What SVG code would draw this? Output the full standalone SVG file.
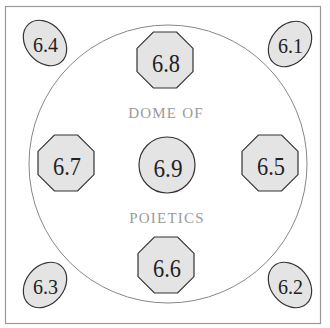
<svg xmlns="http://www.w3.org/2000/svg" width="330" height="328" viewBox="0 0 330 328">
<style>
.oct{fill:#e4e4e4;stroke:#333;stroke-width:1.2}
.ell{fill:#e4e4e4;stroke:#333;stroke-width:1.2}
.num{font-family:"Liberation Serif","Times New Roman",serif;font-size:25px;fill:#222;text-anchor:middle}
.sm{font-size:22px}
.dome{font-family:"Liberation Serif","Times New Roman",serif;font-size:15px;fill:#9a9a9a;text-anchor:middle;letter-spacing:1.2px}
</style>
<defs>
<polygon id="octo" points="-11.6,-28 11.6,-28 28,-11.6 28,11.6 11.6,28 -11.6,28 -28,11.6 -28,-11.6"/>
</defs>
<rect x="0" y="0" width="330" height="328" fill="#fff"/>
<rect x="5.5" y="6.5" width="315" height="317" fill="none" stroke="#999" stroke-width="1.2"/>
<g id="dome">
<circle cx="168" cy="164" r="139" fill="none" stroke="#888" stroke-width="1"/>
<text class="dome" x="166" y="118">DOME OF</text>
<text class="dome" x="167" y="223">POIETICS</text>
</g>
<g id="n68"><use href="#octo" class="oct" transform="translate(165,60)"/><text class="num" x="166" y="72" textLength="28" lengthAdjust="spacingAndGlyphs">6.8</text></g>
<g id="n67"><use href="#octo" class="oct" transform="translate(66,163)"/><text class="num" x="67" y="175" textLength="28" lengthAdjust="spacingAndGlyphs">6.7</text></g>
<g id="n65"><use href="#octo" class="oct" transform="translate(270,163)"/><text class="num" x="271" y="175" textLength="28" lengthAdjust="spacingAndGlyphs">6.5</text></g>
<g id="n66"><use href="#octo" class="oct" transform="translate(166,265)"/><text class="num" x="167" y="277" textLength="28" lengthAdjust="spacingAndGlyphs">6.6</text></g>
<g id="n69"><circle cx="167" cy="165" r="28" class="oct"/><text class="num" x="168" y="177" textLength="29" lengthAdjust="spacingAndGlyphs">6.9</text></g>
<g id="n64"><ellipse cx="45" cy="43" rx="19" ry="25" transform="rotate(-40 45 43)" class="ell"/><text class="num sm" x="45.5" y="52" textLength="25" lengthAdjust="spacingAndGlyphs">6.4</text></g>
<g id="n61"><ellipse cx="290" cy="44" rx="19" ry="25" transform="rotate(40 290 44)" class="ell"/><text class="num sm" x="290.5" y="53" textLength="25" lengthAdjust="spacingAndGlyphs">6.1</text></g>
<g id="n63"><ellipse cx="45" cy="285" rx="19" ry="25" transform="rotate(40 45 285)" class="ell"/><text class="num sm" x="45.5" y="294" textLength="25" lengthAdjust="spacingAndGlyphs">6.3</text></g>
<g id="n62"><ellipse cx="290" cy="285" rx="19" ry="25" transform="rotate(-40 290 285)" class="ell"/><text class="num sm" x="290.5" y="294" textLength="25" lengthAdjust="spacingAndGlyphs">6.2</text></g>
<g id="connectors"/>
</svg>
